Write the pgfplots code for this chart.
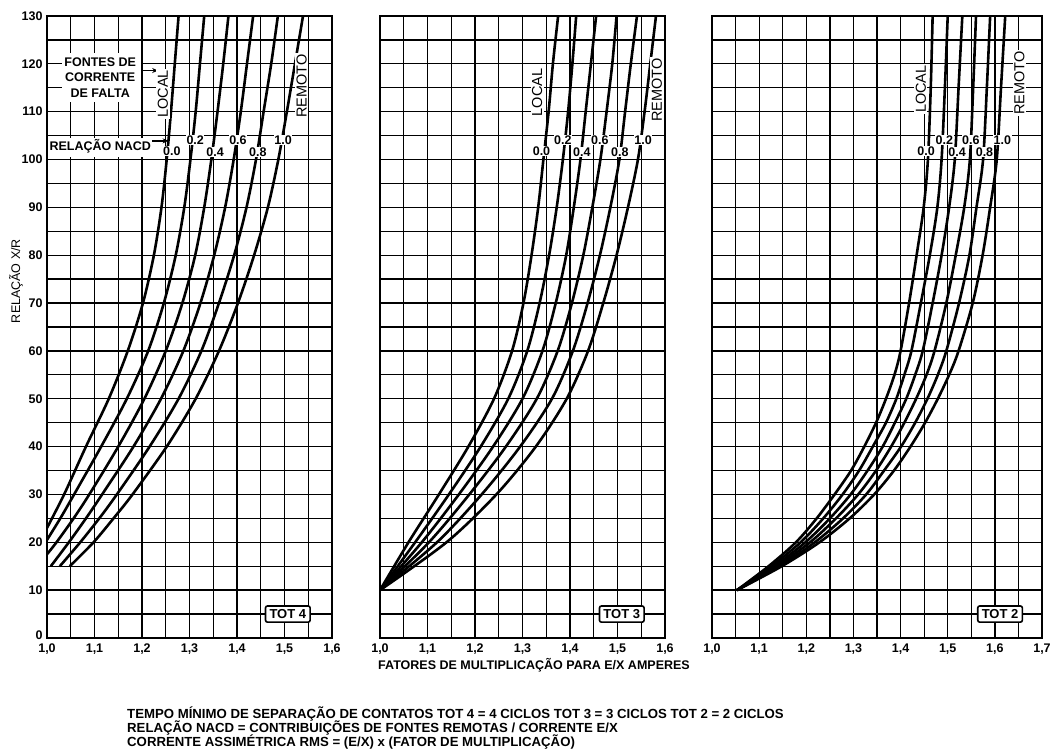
\documentclass[border=0pt]{standalone}
\usepackage{fontspec}
\setmainfont{Liberation Sans}
\usepackage{pgfplots}
\pgfplotsset{compat=1.18}
\usetikzlibrary{arrows.meta}

\pgfplotsset{
  panel/.style={
    scale only axis, anchor=south west,
    height=622pt,
    ymin=0, ymax=130, xmin=1.0,
    ytick={0,10,20,30,40,50,60,70,80,90,100,110,120,130},
    minor ytick={5,15,25,35,45,55,65,75,85,95,105,115,125},
    yticklabels={},
    grid=both,
    major grid style={black, line width=1.3pt},
    minor grid style={black, line width=1.3pt},
    axis line style={black, line width=2.2pt},
    major tick length=0pt, minor tick length=0pt,
    tick label style={font=\bfseries\fontsize{12.5}{14}\selectfont},
    xticklabel style={yshift=-2pt},
  },
  curve/.style={black, line width=2.6pt, smooth, tension=0.5, no markers},
}
\tikzset{
  nacd/.style={fill=white, inner sep=0.6pt, font=\bfseries\fontsize{12.5}{13}\selectfont},
  rot/.style={fill=white, inner sep=1.5pt, rotate=90, font=\fontsize{14.5}{15}\selectfont},
  tot/.style={draw=black, line width=1.6pt, rounded corners=2pt, fill=white,
    inner xsep=4pt, inner ysep=3.5pt, font=\bfseries\fontsize{13}{14}\selectfont},
  note/.style={anchor=base west, inner sep=0pt, font=\bfseries\fontsize{13.2}{14}\selectfont},
}

\begin{document}
\begin{tikzpicture}
\useasboundingbox (0pt,0pt) rectangle (1051pt,751pt);

% ---------------- TOT 4 ----------------
\begin{axis}[panel, at={(47pt,113pt)}, width=285pt, xmax=1.6,
  xtick={1.0,1.1,1.2,1.3,1.4,1.5,1.6},
  minor xtick={1.05,1.15,1.25,1.35,1.45,1.55},
  xticklabels={{1,0},{1,1},{1,2},{1,3},{1,4},{1,5},{1,6}},
  yticklabels={{\raisebox{6pt}{0}},10,20,30,40,50,60,70,80,90,100,110,120,130},
  yticklabel style={xshift=-1pt}]
\addplot[curve] coordinates {(1.000,23) (1.036,30) (1.082,40) (1.130,50) (1.170,60) (1.202,70) (1.225,80) (1.241,90) (1.252,100) (1.261,110) (1.269,120) (1.277,130)};
\addplot[curve] coordinates {(1.000,20.5) (1.028,25) (1.057,30) (1.114,40) (1.168,50) (1.213,60) (1.246,70) (1.271,80) (1.289,90) (1.302,100) (1.313,110) (1.322,120) (1.331,130)};
\addplot[curve] coordinates {(1.000,17.5) (1.020,20) (1.056,25) (1.089,30) (1.150,40) (1.205,50) (1.250,60) (1.285,70) (1.312,80) (1.331,90) (1.346,100) (1.359,110) (1.371,120) (1.382,130)};
\addplot[curve] coordinates {(1.008,15) (1.046,20) (1.082,25) (1.116,30) (1.182,40) (1.240,50) (1.287,60) (1.323,70) (1.352,80) (1.375,90) (1.393,100) (1.408,110) (1.421,120) (1.434,130)};
\addplot[curve] coordinates {(1.027,15) (1.070,20) (1.110,25) (1.147,30) (1.216,40) (1.277,50) (1.325,60) (1.362,70) (1.394,80) (1.420,90) (1.440,100) (1.456,110) (1.472,120) (1.486,130)};
\addplot[curve] coordinates {(1.048,15) (1.098,20) (1.140,25) (1.180,30) (1.252,40) (1.313,50) (1.362,60) (1.402,70) (1.436,80) (1.465,90) (1.487,100) (1.505,110) (1.522,120) (1.539,130)};
% annotations
\fill[white] (axis cs:1.032,112.1) rectangle (axis cs:1.198,122.3);
\node[align=center, font=\bfseries\fontsize{12.5}{15.5}\selectfont, inner sep=0pt]
  at (axis cs:1.112,117.2) {FONTES DE\\CORRENTE\\DE FALTA};
\draw[line width=1.3pt, -{Stealth[length=6pt,width=5pt]}] (axis cs:1.198,118.6) -- (axis cs:1.234,118.6);
\node[rot] at (axis cs:1.244,113.7) {LOCAL};
\node[rot] at (axis cs:1.536,115.4) {REMOTO};
\fill[white] (axis cs:1.003,100.5) rectangle (axis cs:1.222,104.6);
\node[font=\bfseries\fontsize{12.5}{14}\selectfont, inner sep=0pt] at (axis cs:1.112,102.7) {RELAÇÃO NACD};
\draw[line width=1.3pt, -{Stealth[length=6pt,width=5pt]}] (axis cs:1.222,103.9) -- (axis cs:1.256,103.9);
\node[nacd] at (axis cs:1.263,101.7) {0.0};
\node[nacd] at (axis cs:1.312,104.0) {0.2};
\node[nacd] at (axis cs:1.354,101.6) {0.4};
\node[nacd] at (axis cs:1.402,104.0) {0.6};
\node[nacd] at (axis cs:1.444,101.6) {0.8};
\node[nacd] at (axis cs:1.497,104.0) {1.0};
\node[tot] at (axis cs:1.507,5) {TOT 4};
\end{axis}

% ---------------- TOT 3 ----------------
\begin{axis}[panel, at={(380pt,113pt)}, width=285pt, xmax=1.6,
  xtick={1.0,1.1,1.2,1.3,1.4,1.5,1.6},
  minor xtick={1.05,1.15,1.25,1.35,1.45,1.55},
  xticklabels={{1,0},{1,1},{1,2},{1,3},{1,4},{1,5},{1,6}}]
\addplot[curve] coordinates {(1,10) (1.060,20) (1.124,30) (1.186,40) (1.240,50) (1.278,60) (1.302,70) (1.319,80) (1.333,90) (1.344,100) (1.355,110) (1.364,120) (1.375,130)};
\addplot[curve] coordinates {(1,10) (1.074,20) (1.145,30) (1.212,40) (1.270,50) (1.310,60) (1.336,70) (1.356,80) (1.372,90) (1.385,100) (1.396,110) (1.405,120) (1.413,130)};
\addplot[curve] coordinates {(1,10) (1.088,20) (1.166,30) (1.238,40) (1.300,50) (1.342,60) (1.370,70) (1.392,80) (1.408,90) (1.422,100) (1.433,110) (1.444,120) (1.455,130)};
\addplot[curve] coordinates {(1,10) (1.103,20) (1.188,30) (1.265,40) (1.330,50) (1.374,60) (1.404,70) (1.428,80) (1.447,90) (1.464,100) (1.477,110) (1.489,120) (1.498,130)};
\addplot[curve] coordinates {(1,10) (1.120,20) (1.214,30) (1.295,40) (1.362,50) (1.406,60) (1.437,70) (1.463,80) (1.485,90) (1.504,100) (1.516,110) (1.528,120) (1.541,130)};
\addplot[curve] coordinates {(1,10) (1.140,20) (1.245,30) (1.328,40) (1.393,50) (1.438,60) (1.470,70) (1.498,80) (1.522,90) (1.543,100) (1.557,110) (1.569,120) (1.581,130)};
\node[rot] at (axis cs:1.331,114) {LOCAL};
\node[rot] at (axis cs:1.583,114.5) {REMOTO};
\node[nacd] at (axis cs:1.340,101.7) {0.0};
\node[nacd] at (axis cs:1.385,104.0) {0.2};
\node[nacd] at (axis cs:1.425,101.6) {0.4};
\node[nacd] at (axis cs:1.463,104.0) {0.6};
\node[nacd] at (axis cs:1.505,101.6) {0.8};
\node[nacd] at (axis cs:1.554,104.0) {1.0};
\node[tot] at (axis cs:1.509,5) {TOT 3};
\end{axis}

% ---------------- TOT 2 ----------------
\begin{axis}[panel, at={(712pt,113pt)}, width=330pt, xmax=1.7,
  xtick={1.0,1.1,1.2,1.3,1.4,1.5,1.6,1.7},
  minor xtick={1.05,1.15,1.25,1.35,1.45,1.55,1.65},
  xticklabels={{1,0},{1,1},{1,2},{1,3},{1,4},{1,5},{1,6},{1,7}}]
\addplot[curve] coordinates {(1.053,10) (1.120,15) (1.178,20) (1.222,25) (1.260,30) (1.295,35) (1.323,40) (1.348,45) (1.369,50) (1.387,55) (1.400,60) (1.418,70) (1.434,80) (1.449,90) (1.458,100) (1.464,115) (1.468,130)};
\addplot[curve] coordinates {(1.053,10) (1.126,15) (1.188,20) (1.236,25) (1.277,30) (1.312,35) (1.341,40) (1.369,45) (1.391,50) (1.408,55) (1.423,60) (1.443,70) (1.462,80) (1.478,90) (1.487,100) (1.494,115) (1.500,130)};
\addplot[curve] coordinates {(1.053,10) (1.132,15) (1.198,20) (1.250,25) (1.294,30) (1.330,35) (1.362,40) (1.388,45) (1.412,50) (1.431,55) (1.447,60) (1.468,70) (1.487,80) (1.503,90) (1.515,100) (1.523,115) (1.531,130)};
\addplot[curve] coordinates {(1.053,10) (1.137,15) (1.208,20) (1.263,25) (1.310,30) (1.348,35) (1.380,40) (1.408,45) (1.433,50) (1.455,55) (1.472,60) (1.497,70) (1.517,80) (1.535,90) (1.547,100) (1.554,115) (1.560,130)};
\addplot[curve] coordinates {(1.053,10) (1.143,15) (1.218,20) (1.278,25) (1.327,30) (1.365,35) (1.401,40) (1.431,45) (1.457,50) (1.479,55) (1.497,60) (1.524,70) (1.546,80) (1.561,90) (1.575,100) (1.583,115) (1.590,130)};
\addplot[curve] coordinates {(1.053,10) (1.148,15) (1.228,20) (1.292,25) (1.344,30) (1.386,35) (1.421,40) (1.452,45) (1.479,50) (1.503,55) (1.523,60) (1.553,70) (1.574,80) (1.590,90) (1.604,100) (1.613,115) (1.622,130)};
\node[rot] at (axis cs:1.443,114.7) {LOCAL};
\node[rot] at (axis cs:1.652,116) {REMOTO};
\node[nacd] at (axis cs:1.454,101.7) {0.0};
\node[nacd] at (axis cs:1.493,104.0) {0.2};
\node[nacd] at (axis cs:1.520,101.6) {0.4};
\node[nacd] at (axis cs:1.549,104.0) {0.6};
\node[nacd] at (axis cs:1.578,101.6) {0.8};
\node[nacd] at (axis cs:1.616,104.0) {1.0};
\node[tot] at (axis cs:1.611,5) {TOT 2};
\end{axis}

% axis titles and notes
\node[rotate=90, font=\fontsize{12.5}{13}\selectfont] at (16pt,470pt) {RELAÇÃO X/R};
\node[anchor=west, font=\bfseries\fontsize{12.5}{14}\selectfont, inner sep=0pt] at (378pt,86pt)
  {FATORES DE MULTIPLICAÇÃO PARA E/X AMPERES};
\node[note] at (127pt,32pt) {TEMPO MÍNIMO DE SEPARAÇÃO DE CONTATOS TOT 4 = 4 CICLOS TOT 3 = 3 CICLOS TOT 2 = 2 CICLOS};
\node[note] at (127pt,18pt) {RELAÇÃO NACD = CONTRIBUIÇÕES DE FONTES REMOTAS / CORRENTE E/X};
\node[note] at (127pt,4pt) {CORRENTE ASSIMÉTRICA RMS = (E/X) x (FATOR DE MULTIPLICAÇÃO)};
\end{tikzpicture}
\end{document}
